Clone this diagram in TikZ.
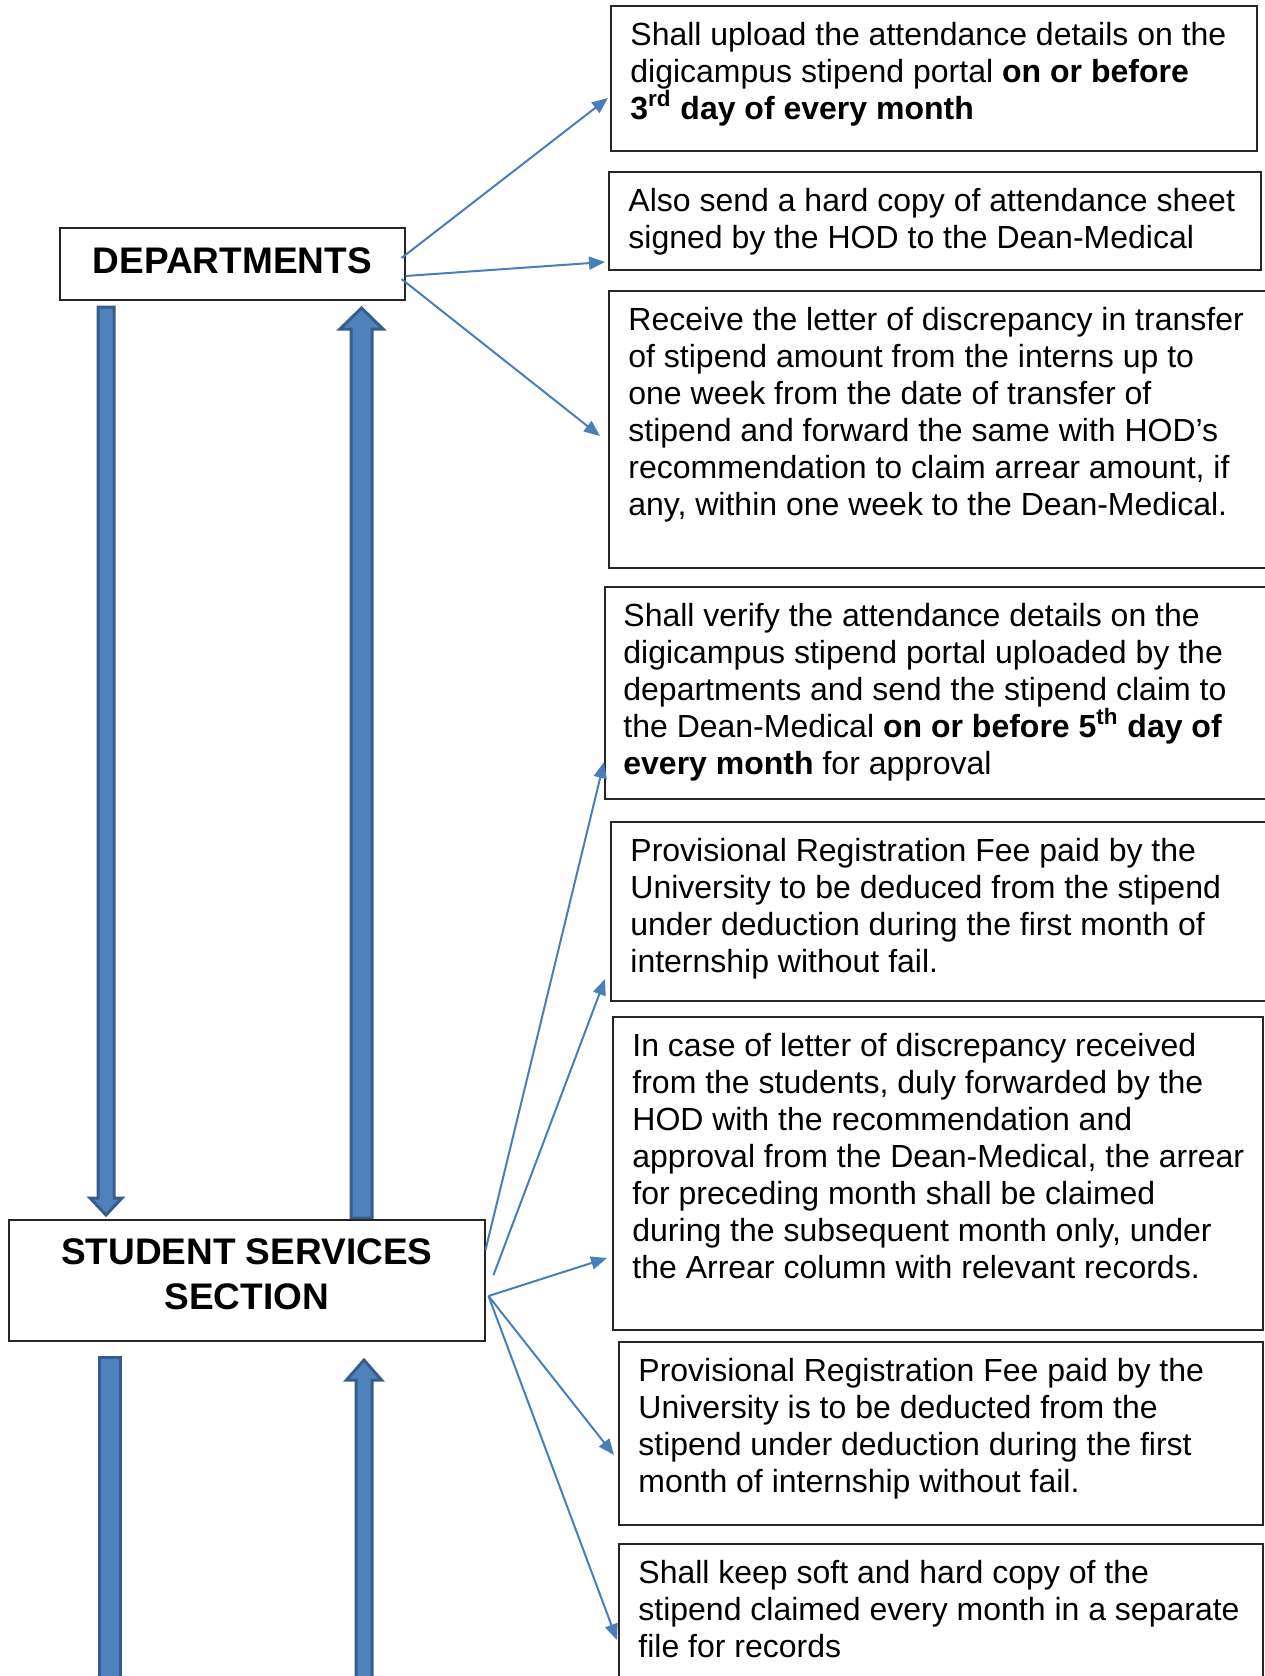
\documentclass[tikz,border=0pt]{standalone}
\usepackage{fontspec}
\setmainfont{Liberation Sans}
\usetikzlibrary{arrows.meta}
\definecolor{arrfill}{HTML}{4F81BD}
\definecolor{arrline}{HTML}{385D8A}
\definecolor{conncol}{HTML}{4A7EBB}
\tikzset{
  box/.style={draw=black!85, line width=0.75pt, fill=white, anchor=north west, inner sep=0pt},
  txt/.style={anchor=north west, inner sep=0pt, align=left, font=\fontsize{16pt}{18.5pt}\selectfont},
  hdr/.style={align=center, inner sep=0pt, font=\bfseries\fontsize{18.5pt}{22.5pt}\selectfont},
  conn/.style={draw=conncol, line width=1pt, -{Triangle[length=8pt,width=6.5pt]}},
  blockarrow/.style={fill=arrfill, draw=arrline, line width=1.5pt, line join=miter}
}
\begin{document}
\begin{tikzpicture}[x=0.5pt, y=-0.5pt]
\useasboundingbox (0,0) rectangle (1264,1676);

% block arrows
\draw[blockarrow] (98,307) -- (114,307) -- (114,1198) -- (122,1198) -- (106,1215) -- (90,1198) -- (98,1198) -- cycle;
\draw[blockarrow] (351,1218) -- (351,329) -- (340,329) -- (361.5,308) -- (383,329) -- (372,329) -- (372,1218) -- cycle;
\draw[blockarrow] (99.5,1357) -- (120.5,1357) -- (120.5,1700) -- (99.5,1700) -- cycle;
\draw[blockarrow] (356,1700) -- (356,1380) -- (346.5,1380) -- (364,1360) -- (381.5,1380) -- (372,1380) -- (372,1700) -- cycle;

% left nodes
\node[box, minimum width=172.5pt, minimum height=36pt] (dep) at (59,227) {};
\node[hdr] (deptxt) at ([yshift=1.5pt]dep.center) {DEPARTMENTS};
\node[box, minimum width=238pt, minimum height=60.5pt] (sss) at (8,1219) {};
\node[hdr] (ssstxt) at ([yshift=3pt]sss.center) {STUDENT SERVICES\\SECTION};

% right boxes
\node[box, minimum width=323pt, minimum height=72.5pt] (b1) at (610,5) {};
\node[box, minimum width=326pt, minimum height=49pt] (b2) at (608,171) {};
\node[box, minimum width=335pt, minimum height=138.5pt] (b3) at (608,290) {};
\node[box, minimum width=340pt, minimum height=106pt] (b4) at (604,586) {};
\node[box, minimum width=335pt, minimum height=89.5pt] (b5) at (610,821) {};
\node[box, minimum width=325pt, minimum height=156.5pt] (b6) at (612,1016) {};
\node[box, minimum width=322pt, minimum height=91.5pt] (b7) at (618,1341) {};
\node[box, minimum width=322pt, minimum height=85pt] (b8) at (618,1543) {};

\node[txt] (t1) at ([shift={(20,14)}]b1.north west) {\strut Shall upload the attendance details on the\\digicampus stipend portal \textbf{on or before}\\\textbf{3\textsuperscript{rd} day of every month}};
\node[txt] (t2) at ([shift={(20,14)}]b2.north west) {\strut Also send a hard copy of attendance sheet\\signed by the HOD to the Dean-Medical};
\node[txt] (t3) at ([shift={(20,14)}]b3.north west) {\strut Receive the letter of discrepancy in transfer\\of stipend amount from the interns up to\\one week from the date of transfer of\\stipend and forward the same with HOD’s\\recommendation to claim arrear amount, if\\any, within one week to the Dean-Medical.};
\node[txt] (t4) at ([shift={(19,14)}]b4.north west) {\strut Shall verify the attendance details on the\\digicampus stipend portal uploaded by the\\departments and send the stipend claim to\\the Dean-Medical \textbf{on or before 5\textsuperscript{th} day of}\\\textbf{every month} for approval};
\node[txt] (t5) at ([shift={(20,14)}]b5.north west) {\strut Provisional Registration Fee paid by the\\University to be deduced from the stipend\\under deduction during the first month of\\internship without fail.};
\node[txt] (t6) at ([shift={(20,14)}]b6.north west) {\strut In case of letter of discrepancy received\\from the students, duly forwarded by the\\HOD with the recommendation and\\approval from the Dean-Medical, the arrear\\for preceding month shall be claimed\\during the subsequent month only, under\\the Arrear column with relevant records.};
\node[txt] (t7) at ([shift={(20,14)}]b7.north west) {\strut Provisional Registration Fee paid by the\\University is to be deducted from the\\stipend under deduction during the first\\month of internship without fail.};
\node[txt] (t8) at ([shift={(20,14)}]b8.north west) {\strut Shall keep soft and hard copy of the\\stipend claimed every month in a separate\\file for records};

% connectors
\draw[conn] ([shift={(-4,31)}]dep.north east) -- ([shift={(-2,93)}]b1.north west);
\draw[conn] ([shift={(0,49)}]dep.north east) -- ([shift={(-3,91)}]b2.north west);
\draw[conn] ([shift={(-4,52)}]dep.north east) -- ([shift={(-8,146)}]b3.north west);
\draw[conn] ([shift={(0,31)}]sss.north east) -- ([shift={(0,176)}]b4.north west);
\draw[conn] ([shift={(8,56)}]sss.north east) -- ([shift={(-5,158)}]b5.north west);
\draw[conn] ([shift={(3,77)}]sss.north east) -- ([shift={(-5,242)}]b6.north west);
\draw[conn] ([shift={(3,77)}]sss.north east) -- ([shift={(-4,114)}]b7.north west);
\draw[conn] ([shift={(3,77)}]sss.north east) -- ([shift={(-1,97)}]b8.north west);
\end{tikzpicture}
\end{document}
